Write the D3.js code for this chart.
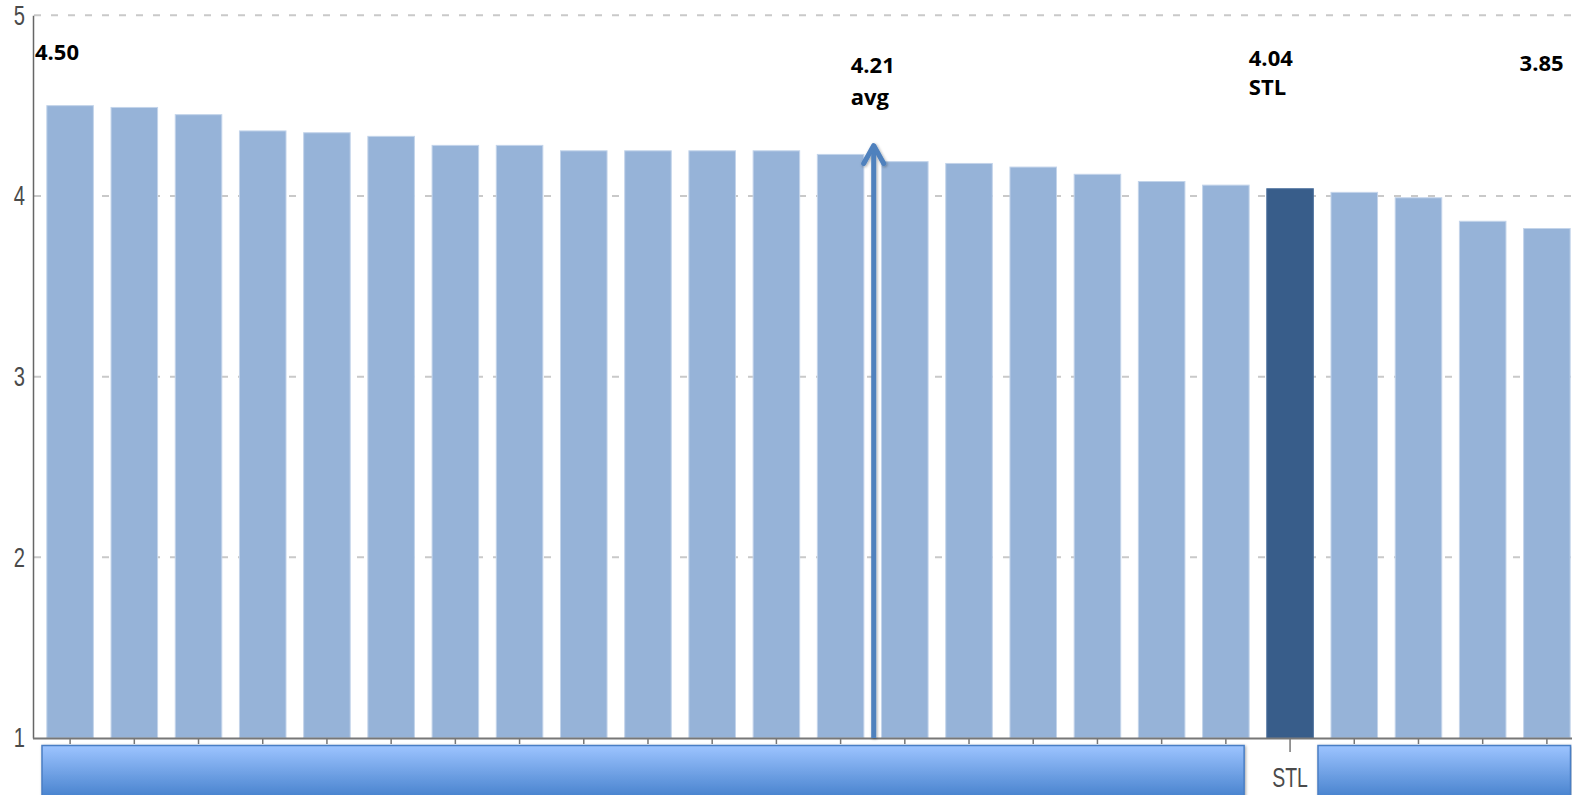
<!DOCTYPE html>
<html>
<head>
<meta charset="utf-8">
<script src="https://cdn.jsdelivr.net/npm/d3@7"></script>
<style>
  html, body { margin: 0; padding: 0; background: #fff; overflow: hidden; }
  svg { display: block; }
</style>
</head>
<body>
<svg id="chart" width="1572" height="795"></svg>
<script>
// ---- data ----
const categories = ["C01","C02","C03","C04","C05","C06","C07","C08","C09","C10","C11","C12",
                    "C13","C14","C15","C16","C17","C18","C19","STL","C21","C22","C23","C24"];
const values = [4.50, 4.49, 4.45, 4.36, 4.35, 4.33, 4.28, 4.28, 4.25, 4.25, 4.25, 4.25,
                4.23, 4.19, 4.18, 4.16, 4.12, 4.08, 4.06, 4.04, 4.02, 3.99, 3.86, 3.82];
const highlight = "STL";
const yTicks = [1, 2, 3, 4, 5];
const xTickLabels = ["STL"];
const avgValue = 4.21;
const avgArrowTop = 4.29;
const annotations = [
  { lines: ["4.50"], cat: "C01" },
  { lines: ["4.21", "avg"], cat: "C13" },
  { lines: ["4.04", "STL"], cat: "STL" },
  { lines: ["3.85"], cat: "C24" }
];

// ---- layout ----
const svg = d3.select("#chart");
const W = 1572, H = 795;
const axisX = 33, plotTop = 15.3, plotBottom = 738;
const condensedFont = "'Liberation Sans', Arial, sans-serif";
const sx = 0.72; // horizontal squeeze for the condensed axis font

const x = d3.scaleBand().domain(categories).range([38, 1579])
  .paddingInner(0.275).paddingOuter(0.1375);
const y = d3.scaleLinear().domain([1, 5]).range([plotBottom, plotTop]);

const defs = svg.append("defs");
const grad = defs.append("linearGradient").attr("id", "boxGrad")
  .attr("x1", 0).attr("y1", 0).attr("x2", 0).attr("y2", 1);
grad.append("stop").attr("offset", "0%").attr("stop-color", "#9dc4ff");
grad.append("stop").attr("offset", "100%").attr("stop-color", "#3a78c6");
const shadow = defs.append("filter").attr("id", "shadow")
  .attr("x", "-50%").attr("y", "-10%").attr("width", "200%").attr("height", "130%");
shadow.append("feDropShadow").attr("dx", 1).attr("dy", 1).attr("stdDeviation", 1.5)
  .attr("flood-color", "#000").attr("flood-opacity", 0.35);

// gridlines
svg.append("g").selectAll("line").data(yTicks.filter(d => d > 1)).join("line")
  .attr("x1", axisX + 1).attr("x2", W)
  .attr("y1", d => y(d)).attr("y2", d => y(d))
  .attr("stroke", "#c9c9c9").attr("stroke-width", 2)
  .attr("stroke-dasharray", "7,10");

// bars
svg.append("g").selectAll("rect").data(categories).join("rect")
  .attr("x", d => x(d)).attr("width", x.bandwidth())
  .attr("y", (d, i) => y(values[i]))
  .attr("height", (d, i) => y(1) - y(values[i]))
  .attr("fill", d => d === highlight ? "#385d8a" : "#96b3d8")
  .attr("stroke", d => d === highlight ? "#4a6f9c" : "#c3d4ea")
  .attr("stroke-width", 1);

// y axis
const yAxis = d3.axisLeft(y).tickValues(yTicks).tickSize(0).tickPadding(8).tickFormat(d3.format("d"));
const yg = svg.append("g").attr("transform", `translate(${axisX},0)`).call(yAxis);
yg.select(".domain").attr("stroke", "#666").attr("stroke-width", 1.5);
yg.selectAll("text")
  .attr("font-family", condensedFont)
  .attr("font-size", 28).attr("fill", "#4a4a4a")
  .attr("x", -8 / sx)
  .attr("transform", `scale(${sx},1)`);

// x axis
const xAxis = d3.axisBottom(x).tickSizeInner(6).tickSizeOuter(0)
  .tickFormat(d => xTickLabels.includes(d) ? d : "");
const xg = svg.append("g").attr("transform", `translate(0,${plotBottom})`).call(xAxis);
xg.select(".domain").attr("d", `M${axisX},0.5H${W}`).attr("stroke", "#777").attr("stroke-width", 2);
xg.selectAll(".tick line").attr("stroke", "#777").attr("stroke-width", 1.5)
  .attr("y2", d => xTickLabels.includes(d) ? 14 : 6);
xg.selectAll(".tick text")
  .attr("y", 30)
  .attr("transform", `scale(${sx},1)`)
  .attr("font-family", condensedFont)
  .attr("font-size", 27).attr("fill", "#4a4a4a");

// gradient boxes covering the category labels
const hiIdx = categories.indexOf(highlight);
const boxes = [
  { x0: 42, x1: x(categories[hiIdx - 1]) + x.bandwidth() - 5 },
  { x0: x(categories[hiIdx + 1]) - 13, x1: W - 1.5 }
];
svg.append("g").selectAll("rect").data(boxes).join("rect")
  .attr("x", d => d.x0).attr("width", d => d.x1 - d.x0)
  .attr("y", 745.5).attr("height", 60)
  .attr("fill", "url(#boxGrad)").attr("stroke", "#4a7ec4").attr("stroke-width", 1.5)
  .attr("filter", "url(#shadow)");

// avg arrow
const idx13 = categories.indexOf("C13");
const arrowX = (x(categories[idx13]) + x(categories[idx13 + 1]) + x.bandwidth()) / 2 + 1;
const ag = svg.append("g").attr("filter", "url(#shadow)");
ag.append("line").attr("x1", arrowX).attr("x2", arrowX)
  .attr("y1", plotBottom).attr("y2", y(avgArrowTop) + 3)
  .attr("stroke", "#4f81bd").attr("stroke-width", 5);
ag.append("path")
  .attr("d", `M${arrowX - 10},${y(avgArrowTop) + 20}L${arrowX},${y(avgArrowTop) + 2}L${arrowX + 10},${y(avgArrowTop) + 20}`)
  .attr("fill", "none").attr("stroke", "#4f81bd").attr("stroke-width", 5)
  .attr("stroke-linecap", "round").attr("stroke-linejoin", "round");

// annotations
const annPos = {
  "C01": { dx: 35 - x("C01"), y0: 60 },
  "C13": { dx: arrowX - 23 - x("C13"), y0: 73 },
  "STL": { dx: -18, y0: 66 },
  "C24": { dx: -4, y0: 71 }
};
const lineGap = { "C01": 0, "C13": 32, "STL": 29, "C24": 0 };
annotations.forEach(a => {
  const p = annPos[a.cat];
  const t = svg.append("text")
    .attr("font-family", "'Open Sans', Lato, sans-serif")
    .attr("font-weight", "bold").attr("font-size", 22).attr("fill", "#000");
  a.lines.forEach((ln, i) => {
    t.append("tspan").attr("x", x(a.cat) + p.dx).attr("y", p.y0 + i * lineGap[a.cat]).text(ln);
  });
});
</script>
</body>
</html>
